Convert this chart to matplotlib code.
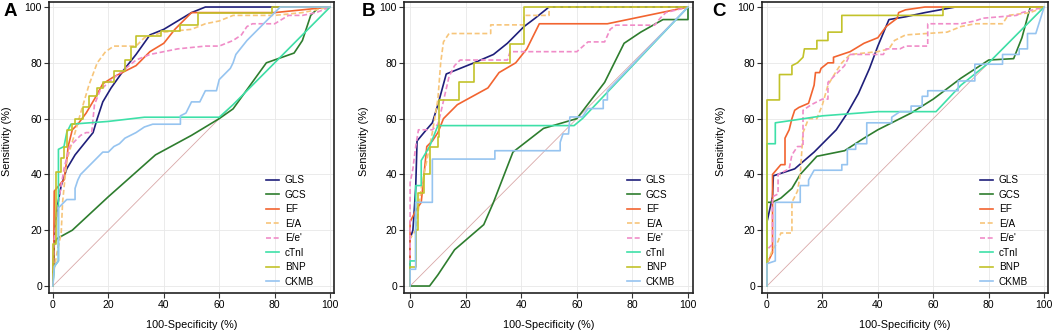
import matplotlib
matplotlib.use("Agg")
import matplotlib.pyplot as plt

plt.rcParams['font.family'] = ['Liberation Sans', 'DejaVu Sans']

series_names = ["GLS", "GCS", "EF", "E/A", "E/e'", "cTnI", "BNP", "CKMB"]
series_colors = ["#1f1f7a", "#2e7d2e", "#f26430", "#f7c57a", "#f08cc8", "#3ee0a8", "#c2c22a", "#96c4f0"]
series_styles = ["-", "-", "-", "--", "--", "-", "-", "-"]
ticks = [0, 20, 40, 60, 80, 100]
panel_labels = ["A", "B", "C"]

# ---------- Panel A ----------
A_GLS = [(0,0),(0.5,18),(1.5,28),(3,36),(5,42),(8,47),(14.5,55),(16,60),(18,66),(21,71),(26,78),(30,83),(35,90),(40,92),(45,95),(50,98),(55,100),(100,100)]
A_GCS = [(0,0),(0.5,15),(1.5,17),(7,20),(20,32),(37,47),(50,54),(60,60),(65,63.5),(77,80),(87,83.5),(90,88),(93,97),(96,100),(100,100)]
A_EF = [(0,0),(0.3,10),(0.5,34),(3,37),(4,38),(5,45),(5.5,50),(7,56),(9,58),(12,62),(15,67),(18,72.5),(22,75),(26,77),(30,79),(35,84),(40,87),(44,92),(47,95),(50,98),(80,98),(90,99),(100,100)]
A_EA = [(0,0),(0.3,5),(1.5,12),(3,19),(3.5,30),(5,45),(8,55),(10,62),(13,72),(16,80),(19,84),(22,86),(30,86),(33,89),(40,91),(50,92),(55,94),(60,95),(65,97),(80,97),(90,98),(100,100)]
A_Ee = [(0,0),(0.3,15),(2,30),(4,42),(6,50),(8,52),(10,54),(12,55),(14,55),(15,65),(17,70),(20,73),(25,77),(30,81),(35,83),(40,84),(45,85),(55,86),(60,86),(65,88),(68,90),(70,93),(72,94),(80,94),(85,97),(90,97),(95,98),(100,100)]
A_cTnI = [(0,0),(0.5,7),(2,9),(2,49),(4,50),(5,55),(6.5,58),(20,59),(33,60.5),(60,60.5),(65,65),(80,80),(100,100)]
A_BNP = [(0,0),(0,15),(1,15),(1,41),(3,41),(3,46),(4,46),(4,50),(5,50),(5,56),(7,56),(7,58),(8,58),(8,60),(11,60),(11,64),(13,64),(13,68),(16,68),(16,71),(18,71),(18,73),(22,73),(22,77),(26,77),(26,81),(28,81),(28,85.5),(30,85.5),(30,89.5),(39,89.5),(39,91.5),(46,91.5),(46,93.5),(52.5,93.5),(52.5,98),(79,98),(79,100),(100,100)]
A_CKMB = [(0,0),(0.5,7),(2,9),(2,28),(4,30),(5,31),(8,31),(8,35),(9,38),(10,40),(11,41),(12,42),(14,44),(16,46),(18,48),(20,48),(22,50),(24,51),(26,53),(28,54),(30,55),(33,57),(36,58),(46,58),(46,61),(48,62),(49,64),(50,66),(53,66),(54,68),(55,70),(59,70),(60,74),(62,76),(64,78),(65,80),(66,83),(70,88),(75,93),(80,98),(82,100),(100,100)]

# ---------- Panel B ----------
B_GLS = [(0,0),(0,17),(1,20),(2,35),(2.5,52),(5,55),(8,58.5),(10,65),(13,76),(23,80),(30,83),(35,87),(41,93),(45,96),(50,100),(100,100)]
B_GCS = [(0,0),(7,0),(10,4),(16,13),(26.5,22),(30,30),(37,48),(48,56.5),(60,60),(70,73),(77,87),(83,91),(91,95.5),(100,95.5),(100,100)]
B_EF = [(0,0),(0,23),(2,27),(4,30),(5,40),(6,50),(8,52),(10,55),(12,60),(17,65),(28,71),(32,76.5),(38,80),(42,85),(46.5,94),(71,94),(100,100)]
B_EA = [(0,0),(0,17),(2,20),(4,35),(8,55),(10,67),(11,80),(12,87.5),(14,90.5),(29,90.5),(29,93.6),(41,93.6),(41,97),(50,97),(50,100),(100,100)]
B_Ee = [(0,0),(0,37),(1,42),(2,50),(3,56),(8,56),(10,58),(11,62),(14,75),(16,79),(18,81),(35,81),(36,84),(60,84),(64,87.5),(70,87.5),(72,92),(74,93.5),(88,93.5),(90,96),(92,98),(100,100)]
B_cTnI = [(0,0),(0,9),(2,9),(2,36),(4,36),(4,45),(7,50),(9,55),(10,57.5),(59,57.5),(62,60),(100,100)]
B_BNP = [(0,0),(0,6.7),(2,6.7),(2,20),(3,20),(3,33.3),(5,33.3),(5,40),(7,40),(7,50),(10,50),(10,53.3),(10.5,53.3),(10.5,66.7),(17.6,66.7),(17.6,73.3),(23,73.3),(23,80),(36,80),(36,86.7),(41,86.7),(41,100),(100,100)]
B_CKMB = [(0,0),(0,6),(2,6),(2,30),(8,30),(8,45.5),(30.5,45.5),(30.5,48.5),(54,48.5),(54,51.5),(55,54.5),(57,54.5),(57.5,60.6),(62,60.6),(64,63.6),(69.5,63.6),(69.5,66.7),(71,66.7),(71,70),(100,100)]

# ---------- Panel C ----------
C_GLS = [(0,0),(0,23),(2,32),(2.3,39.5),(10,42),(17,48),(25,56),(29,62),(33,69),(37,78),(40,86),(44,95.5),(50,96.5),(57,98),(68,100),(100,100)]
C_GCS = [(0,0),(0,30),(2,30),(5,31.5),(9,35),(12,40),(18,46.5),(28,48.5),(35,53),(40,56),(52,62),(60,67),(70,74.5),(80,81),(89,81.5),(92,89),(95,100),(100,100)]
C_EF = [(0,0),(0,8),(2,12),(2,40),(5,43.5),(6.5,43.5),(6.5,53),(8,56),(9,60),(10,63),(11.5,64),(15,65.5),(17,72),(17.5,76.5),(19,76.5),(19.5,78),(22,80),(24,80),(24,82),(30,84),(35,87),(40,89),(43,93),(47,96),(47.5,98),(50,99),(57,100),(100,100)]
C_EA = [(0,0),(0,8),(2,13),(4,16),(5,19),(9,19),(9,30),(11,34),(12,40),(13,55),(15,60),(18,60),(20,65),(22,72),(25,77),(27,80),(29,82),(30,83),(40,84),(44,85),(46,88),(50,90),(65,91),(70,93),(75,94),(85,94),(87,97),(95,98),(100,100)]
C_Ee = [(0,0),(0,13),(2,15),(2,32),(4,33),(4,40),(8,42),(9,47),(11,50),(13,50),(13,63),(16,65),(18,66),(20,67),(22,67),(22,73),(24,75),(26,77),(28,79),(30,83),(42,83),(43,85),(48,85),(50,86),(58,86),(58,94),(70,94),(75,95),(78,96),(90,97),(92,98),(100,100)]
C_cTnI = [(0,0),(0,13),(0,51),(3,51),(3,58.5),(10,59.5),(20,61),(40,62.5),(61,62.5),(70,72),(80,80),(100,100)]
C_BNP = [(0,0),(0,51),(0,66.7),(4.5,66.7),(4.5,75.8),(9,75.8),(9,79),(11,80),(13,82),(13.5,85),(18,85),(18,88),(22,88),(22,91),(27,91),(27,97),(63.5,97),(63.5,100),(100,100)]
C_CKMB = [(0,0),(0,8),(3,9),(3,30),(12,30),(12,36),(15,36),(15,38),(17,41.5),(27,41.5),(27,43.5),(29,43.5),(29,49),(32,49),(32,51),(36,51),(36,58.5),(45,58.5),(45,60.5),(48,62.5),(52,62.5),(52,64.5),(56,64.5),(56,68),(58,68),(58,70),(69,70),(69,73.5),(75,73.5),(75,79.5),(85,79.5),(85,83),(91,83),(91,85),(94,85),(94,90.5),(97,90.5),(100,100)]

panels = [
    [A_GLS, A_GCS, A_EF, A_EA, A_Ee, A_cTnI, A_BNP, A_CKMB],
    [B_GLS, B_GCS, B_EF, B_EA, B_Ee, B_cTnI, B_BNP, B_CKMB],
    [C_GLS, C_GCS, C_EF, C_EA, C_Ee, C_cTnI, C_BNP, C_CKMB],
]

W, H = 1053, 332
fig = plt.figure(figsize=(W/100, H/100), dpi=100)

# axes boxes in pixels: left, right, top, bottom
boxes = [(49, 334, 2, 293), (404, 693, 2, 293), (762, 1048, 2, 293)]
xlims = [(-1.4, 101.4), (-2.2, 101.8), (-1.8, 101.4)]
ylabel_x = [7, 364, 721]
letter_x = [4, 362, 712]
legend_right = [318, 679, 1032]

for i, (data, box) in enumerate(zip(panels, boxes)):
    l, r, t, b = box
    ax = fig.add_axes([l/W, (H-b)/H, (r-l)/W, (b-t)/H])
    ax.plot([0, 100], [0, 100], color="#d9a8a8", lw=0.6, zorder=1)
    for pts, name, col, ls in zip(data, series_names, series_colors, series_styles):
        xs = [p[0] for p in pts]
        ys = [p[1] for p in pts]
        kw = dict(dashes=(3, 1.6)) if ls == "--" else {}
        ax.plot(xs, ys, color=col, lw=1.2, label=name, zorder=2, **kw)
    ax.set_xlim(*xlims[i])
    ax.set_ylim(-2.5, 101.8)
    ax.set_xticks(ticks)
    ax.set_yticks(ticks)
    ax.tick_params(labelsize=7.5, length=3.5, width=0.8, color="#333333", pad=1.5)
    ax.grid(True, color="#e8e8e8", lw=0.6)
    ax.set_axisbelow(True)
    for s in ax.spines.values():
        s.set_linewidth(1.2)
        s.set_color("#222222")
    ax.legend(loc="lower right",
              bbox_to_anchor=((legend_right[i] - l)/(r - l), 0.007),
              frameon=False, fontsize=7.2, handlelength=1.3, labelspacing=0.45,
              handletextpad=0.6, borderaxespad=0.0, borderpad=0.4)
    fig.text(ylabel_x[i]/W, (H - 141)/H, "Sensitivity (%)", rotation=90,
             ha="center", va="center", fontsize=7.8)
    fig.text((l + r)/2/W, (H - 325)/H, "100-Specificity (%)", ha="center",
             va="center", fontsize=7.8)
    fig.text(letter_x[i]/W, (H - 3)/H, panel_labels[i], ha="left", va="top",
             fontsize=13.5, fontweight="bold")

fig.savefig("out.png", dpi=100)
